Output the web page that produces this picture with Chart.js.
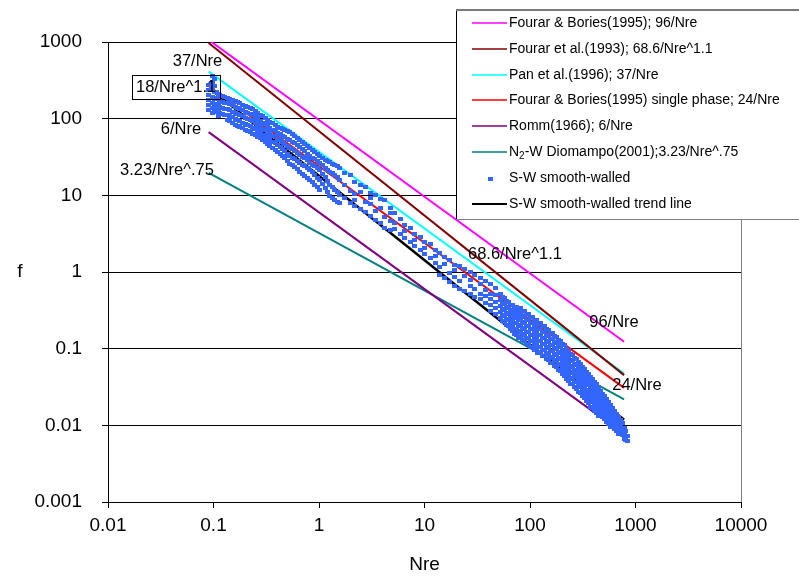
<!DOCTYPE html>
<html>
<head>
<meta charset="utf-8">
<script src="https://cdn.jsdelivr.net/npm/chart.js@4/dist/chart.umd.min.js"></script>
<style>
  html, body { margin: 0; padding: 0; background: #fff; }
  canvas { display: block; }
</style>
</head>
<body>
<canvas id="chart" width="799" height="582"></canvas>
<script>
// Axis ticks (log-log)
const xTicks = [0.01, 0.1, 1, 10, 100, 1000, 10000];
const xTickLabels = ['0.01', '0.1', '1', '10', '100', '1000', '10000'];
const yTicks = [0.001, 0.01, 0.1, 1, 10, 100, 1000];
const yTickLabels = ['0.001', '0.01', '0.1', '1', '10', '100', '1000'];

// Friction factor correlations f = c / Nre^n
const corrNames = [
  'Fourar & Bories(1995); 96/Nre',
  'Fourar et al.(1993); 68.6/Nre^1.1',
  'Pan et al.(1996); 37/Nre',
  'Fourar & Bories(1995) single phase; 24/Nre',
  'Romm(1966); 6/Nre',
  'N2-W Diomampo(2001);3.23/Nre^.75'
];
const corrCoef = [96, 68.6, 37, 24, 6, 3.23];
const corrExp = [1, 1.1, 1, 1, 1, 0.75];
const corrColors = ['#FF00FF', '#800000', '#00FFFF', '#FF0000', '#800080', '#008080'];
const corrNre = [0.09, 780];

// Trend line of the smooth-walled data: f = 18 / Nre^1.1
const trendName = 'S-W smooth-walled trend line';
const trendCoef = 18;
const trendExp = 1.1;
const trendNre = [0.1, 780];

// S-W smooth-walled measurements: [Nre, [f readings at that Nre]]
const scatterName = 'S-W smooth-walled';
const smoothWalled = [
  [0.090, [275, 237, 204, 176, 151, 130]],
  [0.097, [360, 301, 251, 192, 160, 138, 119]],
  [0.102, [330, 270, 220, 180, 148, 124]],
  [0.106, [223, 186, 156, 130]],
  [0.111, [212, 178, 149, 125, 108]],
  [0.115, [204, 170, 142, 119]],
  [0.121, [198, 165, 138, 116]],
  [0.128, [192, 160, 134, 112]],
  [0.135, [187, 158, 132, 110, 96]],
  [0.143, [181, 156, 130, 108, 93]],
  [0.151, [176, 149, 124, 104, 88]],
  [0.160, [170, 142, 119, 100, 83]],
  [0.169, [165, 138, 115, 96, 80]],
  [0.178, [160, 134, 112, 93, 78]],
  [0.188, [153, 128, 107, 89, 75]],
  [0.199, [147, 122, 102, 85, 71]],
  [0.210, [142, 118, 99, 82, 69]],
  [0.222, [138, 115, 96, 80, 67]],
  [0.235, [132, 110, 92, 76, 64]],
  [0.248, [126, 105, 88, 73, 61]],
  [0.262, [119, 99, 83, 69, 58]],
  [0.276, [112, 93, 78, 65, 56]],
  [0.292, [107, 89, 74, 62, 53]],
  [0.308, [102, 85, 71, 59, 50]],
  [0.325, [96, 80, 67, 56, 47]],
  [0.343, [91, 76, 63, 53, 44]],
  [0.363, [87, 72, 60, 50, 41]],
  [0.383, [83, 69, 58, 48, 39]],
  [0.405, [79, 66, 55, 45, 37]],
  [0.427, [76, 63, 53, 43, 35]],
  [0.451, [73, 60, 50, 40, 33]],
  [0.476, [71, 58, 47, 38, 31]],
  [0.503, [69, 55, 44, 35, 28]],
  [0.53, [67, 53, 41.5, 32.7, 25.7]],
  [0.56, [63, 50, 40, 31, 24.5]],
  [0.59, [59, 48, 38, 29.9, 23.5]],
  [0.625, [56, 45, 36, 28, 22]],
  [0.66, [53, 43, 33.7, 26.4, 20.2]],
  [0.70, [50, 40, 32, 25, 19]],
  [0.735, [47, 38, 31, 24.2, 17.9]],
  [0.78, [44, 35, 28.5, 22.8, 17]],
  [0.82, [41.5, 32.7, 26.4, 21.5, 16]],
  [0.87, [39, 31, 25, 20, 15]],
  [0.915, [36.8, 29.9, 24.2, 18.5, 13.7]],
  [0.97, [34.5, 28, 22.8, 17, 12.7]],
  [1.02, [32.7, 26.4, 21.5, 16, 11.8]],
  [1.08, [31, 24.5, 19, 14]],
  [1.14, [29.1, 22.8, 17.4, 12.5]],
  [1.2, [28, 21.5, 15.5, 11]],
  [1.27, [27.2, 20.2, 13.7, 9.8]],
  [1.34, [26, 19.5, 13, 9.2]],
  [1.41, [25, 18.5, 11.8, 8.7]],
  [1.5, [23.8, 17.2, 11, 8.3]],
  [1.58, [22.8, 16, 10, 8.0]],
  [1.76, [19.5, 13.8, 9.2]],
  [1.97, [18.5, 11.5, 7.9]],
  [2.19, [15, 10.5, 7.2, 8.6]],
  [2.45, [13.5, 11.2, 6.6]],
  [2.73, [12.8, 8.2, 6.1]],
  [3.05, [10.6, 7.8, 5.4, 9.1]],
  [3.40, [10.2, 6.2, 4.8]],
  [3.79, [8.9, 6.8, 4.3]],
  [4.22, [8.6, 5.2, 3.8]],
  [4.71, [6.9, 4.6, 3.5, 5.8]],
  [5.25, [5.9, 3.6, 4.3]],
  [5.86, [4.9, 3.1]],
  [6.5, [4.1, 2.8, 3.4]],
  [7.3, [3.7, 2.45]],
  [8.1, [3.1, 2.2, 2.6]],
  [9.1, [2.9, 1.95]],
  [10.1, [2.45, 1.7, 2.05]],
  [11.3, [2.3, 1.5]],
  [12.6, [1.95, 1.3, 1.6]],
  [14.0, [1.75, 1.15, 0.92]],
  [15.6, [1.55, 1.28, 0.84]],
  [17.4, [1.42, 0.98, 0.75]],
  [19.4, [1.25, 0.86, 0.66, 1.05]],
  [21.7, [1.18, 0.76, 0.6]],
  [24.2, [1.08, 0.88, 0.56]],
  [27, [1.0, 0.66, 0.51, 0.78]],
  [30, [0.92, 0.6, 0.47]],
  [33.6, [0.83, 0.7, 0.52, 0.44]],
  [37.5, [0.76, 0.58, 0.48, 0.4]],
  [41.8, [0.7, 0.52, 0.44, 0.37, 0.31]],
  [46.6, [0.62, 0.5, 0.41, 0.34, 0.28]],
  [52.0, [0.518, 0.433, 0.362, 0.302, 0.252]],
  [54.3, [0.474, 0.396, 0.331, 0.276, 0.230]],
  [56.8, [0.459, 0.384, 0.321, 0.268, 0.224]],
  [59.4, [0.42, 0.351, 0.293, 0.245, 0.205]],
  [62.0, [0.408, 0.341, 0.285, 0.238, 0.199]],
  [64.8, [0.373, 0.312, 0.26, 0.218, 0.182]],
  [67.6, [0.373, 0.321, 0.276, 0.238, 0.199, 0.171]],
  [70.6, [0.341, 0.293, 0.252, 0.218, 0.182, 0.156]],
  [73.8, [0.351, 0.302, 0.260, 0.217, 0.182, 0.152]],
  [77.1, [0.321, 0.276, 0.238, 0.198, 0.166, 0.139]],
  [80.5, [0.341, 0.293, 0.245, 0.205, 0.171, 0.143]],
  [84.1, [0.312, 0.268, 0.224, 0.187, 0.156, 0.131]],
  [87.9, [0.311, 0.260, 0.217, 0.182, 0.152, 0.127]],
  [91.9, [0.284, 0.238, 0.198, 0.166, 0.139, 0.116]],
  [95.9, [0.285, 0.238, 0.199, 0.166, 0.139, 0.116]],
  [100.2, [0.26, 0.218, 0.182, 0.152, 0.127, 0.106]],
  [104.7, [0.260, 0.217, 0.182, 0.152, 0.127, 0.106]],
  [109.4, [0.238, 0.198, 0.166, 0.139, 0.116, 0.097]],
  [114, [0.238, 0.199, 0.166, 0.139, 0.116, 0.097]],
  [119, [0.218, 0.182, 0.152, 0.127, 0.106, 0.0887]],
  [124.7, [0.217, 0.182, 0.152, 0.127, 0.106, 0.0885]],
  [130, [0.198, 0.166, 0.139, 0.116, 0.097, 0.081]],
  [136, [0.199, 0.166, 0.139, 0.116, 0.0971, 0.081]],
  [142, [0.182, 0.152, 0.127, 0.106, 0.0887, 0.074]],
  [148.5, [0.177, 0.148, 0.123, 0.103, 0.0861, 0.0719]],
  [155, [0.162, 0.135, 0.112, 0.094, 0.0787, 0.0657]],
  [162, [0.161, 0.135, 0.113, 0.0942, 0.0786, 0.0657]],
  [169, [0.147, 0.123, 0.103, 0.0861, 0.0718, 0.06]],
  [177, [0.143, 0.120, 0.100, 0.0835, 0.0698, 0.0584]],
  [185, [0.131, 0.11, 0.0914, 0.0763, 0.0638, 0.0534]],
  [193, [0.127, 0.106, 0.0887, 0.074, 0.062, 0.0518]],
  [202, [0.116, 0.097, 0.0811, 0.0676, 0.0567, 0.0473]],
  [211, [0.110, 0.0914, 0.0762, 0.0638, 0.0534, 0.0446]],
  [220, [0.1, 0.0835, 0.0697, 0.0583, 0.0488, 0.0408]],
  [230, [0.0942, 0.0786, 0.0657, 0.055, 0.046, 0.0384]],
  [240, [0.0861, 0.0718, 0.06, 0.0503, 0.042, 0.0351]],
  [251, [0.0835, 0.0698, 0.0584, 0.0488, 0.0408, 0.0341]],
  [262, [0.0763, 0.0638, 0.0534, 0.0446, 0.0373, 0.0312]],
  [274, [0.074, 0.062, 0.0518, 0.0433, 0.0363, 0.0302]],
  [286, [0.0676, 0.0567, 0.0473, 0.0396, 0.0332, 0.0276]],
  [299, [0.0638, 0.0534, 0.0446, 0.0373, 0.0312, 0.0261]],
  [312, [0.0583, 0.0488, 0.0408, 0.0341, 0.0285, 0.0239]],
  [326, [0.055, 0.046, 0.0384, 0.0321, 0.0269, 0.0225]],
  [341, [0.0503, 0.042, 0.0351, 0.0293, 0.0246, 0.0206]],
  [356, [0.0474, 0.0396, 0.0331, 0.0276, 0.0231, 0.0193]],
  [372, [0.0433, 0.0362, 0.0303, 0.0252, 0.0211, 0.0176]],
  [388, [0.0408, 0.0341, 0.0284, 0.0238, 0.0199, 0.0166]],
  [405, [0.0373, 0.0312, 0.026, 0.0218, 0.0182, 0.0152]],
  [424, [0.0341, 0.0284, 0.0238, 0.0199, 0.0166, 0.0143]],
  [443, [0.0312, 0.026, 0.0218, 0.0182, 0.0152, 0.0131]],
  [462, [0.0284, 0.0238, 0.0199, 0.0166, 0.0139]],
  [483, [0.026, 0.0218, 0.0182, 0.0152, 0.0127]],
  [505, [0.0238, 0.0199, 0.0166, 0.0139, 0.012]],
  [528, [0.0218, 0.0182, 0.0152, 0.0127, 0.011]],
  [551, [0.0199, 0.0166, 0.0139, 0.0116, 0.0103]],
  [576, [0.0182, 0.0152, 0.0127, 0.0106, 0.0094]],
  [601, [0.0166, 0.0139, 0.0116, 0.0097]],
  [628, [0.0152, 0.0127, 0.0106, 0.0089]],
  [656, [0.0139, 0.0116, 0.0097, 0.0084]],
  [686, [0.0127, 0.0106, 0.0089, 0.0077]],
  [716, [0.0116, 0.0097, 0.0081]],
  [748, [0.0106, 0.0089, 0.0074]],
  [781, [0.0092, 0.0076, 0.0066]],
  [810, [0.0084, 0.0069, 0.0064]],
  [836, [0.0072, 0.0062]]
];

// Equation labels placed in data coordinates
const equationLabels = [
  { text: '37/Nre', nre: 0.0705, f: 553 },
  { text: '18/Nre^1.1', nre: 0.0442, f: 259, boxed: true },
  { text: '6/Nre', nre: 0.0492, f: 73 },
  { text: '3.23/Nre^.75', nre: 0.0362, f: 21 },
  { text: '68.6/Nre^1.1', nre: 72, f: 1.67 },
  { text: '96/Nre', nre: 625, f: 0.223 },
  { text: '24/Nre', nre: 1033, f: 0.0327 }
];

const FONT = '"Liberation Sans", Arial, Helvetica, sans-serif';
const POINT_COLOR = '#3366FF';

// small rectangular marker used for the measurements
const marker = document.createElement('canvas');
marker.width = 5; marker.height = 4;
(function () {
  const m = marker.getContext('2d');
  m.fillStyle = POINT_COLOR;
  m.fillRect(0, 0, 5, 4);
})();

function powerLine(c, n, range) {
  return range.map(x => ({ x: x, y: c / Math.pow(x, n) }));
}

const scatterData = [];
smoothWalled.forEach(([nre, fs]) => fs.forEach(f => scatterData.push({ x: nre, y: f })));

const datasets = [];
datasets.push({
  label: scatterName,
  data: scatterData,
  showLine: false,
  pointStyle: marker,
  pointRadius: 2.5,
  pointHoverRadius: 2.5,
  order: 0
});
corrCoef.forEach((c, i) => {
  datasets.push({
    label: corrNames[i],
    data: powerLine(c, corrExp[i], corrNre),
    showLine: true,
    borderColor: corrColors[i],
    borderWidth: 2,
    pointRadius: 0,
    fill: false,
    order: 2
  });
});
datasets.push({
  label: trendName,
  data: powerLine(trendCoef, trendExp, trendNre),
  showLine: true,
  borderColor: '#000000',
  borderWidth: 2.5,
  pointRadius: 0,
  fill: false,
  order: 1
});

// plot frame on the right edge
const framePlugin = {
  id: 'frame',
  beforeDatasetsDraw(chart) {
    const { ctx, chartArea } = chart;
    ctx.save();
    ctx.strokeStyle = '#808080';
    ctx.lineWidth = 1;
    ctx.beginPath();
    ctx.moveTo(Math.round(chartArea.right) + 0.5, chartArea.top);
    ctx.lineTo(Math.round(chartArea.right) + 0.5, chartArea.bottom);
    ctx.stroke();
    ctx.restore();
  }
};

// equation labels next to the curves
const equationPlugin = {
  id: 'equations',
  afterDatasetsDraw(chart) {
    const { ctx, scales } = chart;
    ctx.save();
    ctx.font = '16.5px ' + FONT;
    ctx.fillStyle = '#000';
    ctx.textAlign = 'center';
    ctx.textBaseline = 'middle';
    equationLabels.forEach(l => {
      const px = scales.x.getPixelForValue(l.nre);
      const py = scales.y.getPixelForValue(l.f);
      ctx.fillText(l.text, px, py);
      if (l.boxed) {
        const w = ctx.measureText(l.text).width + 8;
        ctx.strokeStyle = '#000';
        ctx.lineWidth = 1;
        ctx.strokeRect(Math.round(px - w / 2) + 0.5, Math.round(py - 12) + 0.5, Math.round(w), 24);
      }
    });
    ctx.restore();
  }
};

// axis titles
const titlePlugin = {
  id: 'titles',
  afterDraw(chart) {
    const { ctx, chartArea } = chart;
    ctx.save();
    ctx.font = '19px ' + FONT;
    ctx.fillStyle = '#000';
    ctx.textAlign = 'center';
    ctx.textBaseline = 'middle';
    ctx.fillText('f', 20, chart.scales.y.getPixelForValue(1));
    ctx.fillText('Nre', (chartArea.left + chartArea.right) / 2, 565);
    ctx.restore();
  }
};

// boxed legend in the upper right corner
const legendPlugin = {
  id: 'boxLegend',
  afterDraw(chart) {
    const { ctx } = chart;
    const left = 456, top = 9, bottom = 219, right = 800;
    ctx.save();
    ctx.fillStyle = '#fff';
    ctx.fillRect(left, top, right - left, bottom - top);
    ctx.strokeStyle = '#000';
    ctx.lineWidth = 1;
    ctx.beginPath();
    ctx.moveTo(left + 0.5, top);
    ctx.lineTo(left + 0.5, bottom + 0.5);
    ctx.stroke();
    ctx.strokeStyle = '#808080';
    ctx.beginPath();
    ctx.moveTo(left, bottom + 0.5);
    ctx.lineTo(right, bottom + 0.5);
    ctx.stroke();
    ctx.lineWidth = 2;
    ctx.strokeStyle = '#7a7a7a';
    ctx.beginPath();
    ctx.moveTo(left, top + 1);
    ctx.lineTo(right, top + 1);
    ctx.stroke();

    const items = [];
    corrNames.forEach((n, i) => items.push({ kind: 'line', color: corrColors[i], width: 1.5, text: n }));
    items.push({ kind: 'point', color: POINT_COLOR, text: scatterName });
    items.push({ kind: 'line', color: '#000000', width: 2, text: trendName });

    ctx.font = '14px ' + FONT;
    ctx.textBaseline = 'middle';
    ctx.textAlign = 'left';
    items.forEach((it, i) => {
      const y = Math.round(23 + i * 25.8);
      if (it.kind === 'line') {
        ctx.strokeStyle = it.color;
        ctx.lineWidth = it.width;
        ctx.beginPath();
        ctx.moveTo(472, y);
        ctx.lineTo(507, y);
        ctx.stroke();
      } else {
        ctx.fillStyle = it.color;
        ctx.fillRect(488, y - 1, 5, 4);
      }
      ctx.fillStyle = '#000';
      if (it.text.startsWith('N2-')) {
        // N with subscript 2
        let x = 509;
        ctx.fillText('N', x, y);
        x += ctx.measureText('N').width;
        ctx.font = '10px ' + FONT;
        ctx.fillText('2', x, y + 4);
        x += ctx.measureText('2').width;
        ctx.font = '14px ' + FONT;
        ctx.fillText(it.text.slice(2), x, y);
      } else {
        ctx.fillText(it.text, 509, y);
      }
    });
    ctx.restore();
  }
};

new Chart(document.getElementById('chart'), {
  type: 'scatter',
  data: { datasets: datasets },
  options: {
    responsive: false,
    animation: false,
    events: [],
    layout: { padding: { top: 42, right: 58, left: 0, bottom: 0 } },
    plugins: { legend: { display: false }, tooltip: { enabled: false } },
    scales: {
      x: {
        type: 'logarithmic',
        min: 0.01,
        max: 10000,
        afterBuildTicks(scale) { scale.ticks = xTicks.map(v => ({ value: v })); },
        afterFit(scale) { scale.height = 80; },
        ticks: {
          color: '#000',
          font: { size: 19, family: FONT },
          padding: 6,
          maxRotation: 0,
          autoSkip: false,
          callback: (v, i) => xTickLabels[i]
        },
        grid: { drawOnChartArea: false, drawTicks: true, tickLength: 6, color: '#000' },
        border: { display: true, color: '#000', width: 1 }
      },
      y: {
        type: 'logarithmic',
        min: 0.001,
        max: 1000,
        afterBuildTicks(scale) { scale.ticks = yTicks.map(v => ({ value: v })); },
        afterFit(scale) { scale.width = 108; },
        ticks: {
          color: '#000',
          font: { size: 19, family: FONT },
          padding: 20,
          autoSkip: false,
          callback: (v, i) => yTickLabels[i]
        },
        grid: { drawOnChartArea: true, drawTicks: true, tickLength: 6, color: '#000', lineWidth: 1 },
        border: { display: true, color: '#000', width: 1 }
      }
    }
  },
  plugins: [framePlugin, equationPlugin, titlePlugin, legendPlugin]
});
</script>
</body>
</html>
